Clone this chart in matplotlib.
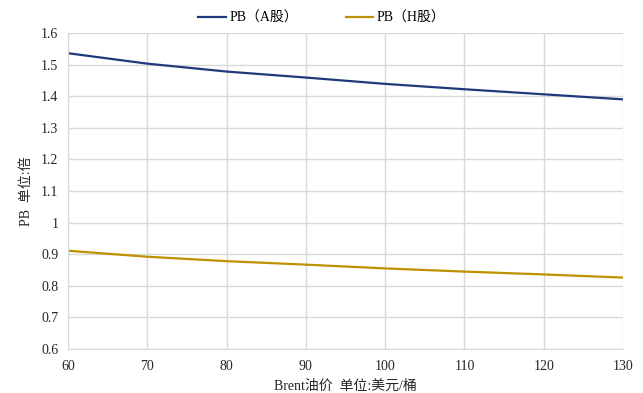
import matplotlib
matplotlib.use("Agg")
import matplotlib.pyplot as plt

plt.rcParams['font.family'] = ['Liberation Serif', 'Noto Sans CJK SC']

oil_price = [60, 70, 80, 90, 100, 110, 120, 130]
pb_a = [1.536, 1.503, 1.478, 1.459, 1.439, 1.422, 1.406, 1.390]
pb_h = [0.911, 0.892, 0.878, 0.867, 0.855, 0.845, 0.836, 0.826]
y_ticks = [0.6, 0.7, 0.8, 0.9, 1.0, 1.1, 1.2, 1.3, 1.4, 1.5, 1.6]
y_tick_labels = ['0.6', '0.7', '0.8', '0.9', '1', '1.1', '1.2', '1.3', '1.4', '1.5', '1.6']

fig = plt.figure(figsize=(6.43, 3.93), dpi=100)
ax = fig.add_axes([68/643, 1 - 349/393, (623-68)/643, (349-33)/393])

ax.plot(oil_price, pb_a, color='#1F3A7A', lw=1.6, label='PB（A股）')
ax.plot(oil_price, pb_h, color='#BF9000', lw=1.6, label='PB（H股）')

ax.set_xlim(60, 130)
ax.set_ylim(0.6, 1.6)
ax.set_xticks(oil_price)
ax.set_yticks(y_ticks)
ax.set_yticklabels(y_tick_labels)
ax.grid(True, color='#D9D9D9', lw=1)
ax.set_axisbelow(True)
for s in ['top', 'right']:
    ax.spines[s].set_visible(False)
for s in ['left', 'bottom']:
    ax.spines[s].set_color('#D9D9D9')
ax.tick_params(length=0, labelsize=10, colors='#262626')
ax.tick_params(axis='x', pad=8)
ax.tick_params(axis='y', pad=7)

ax.set_xlabel('Brent油价  单位:美元/桶', fontsize=10, color='#262626', labelpad=5)
ax.set_ylabel('PB  单位:倍', fontsize=10, color='#262626', labelpad=6)

fig.legend(loc='center', bbox_to_anchor=(322/643, 1 - 18/393), ncol=2, frameon=False,
           fontsize=10, handlelength=2.0, columnspacing=3.4, handletextpad=0.25)

fig.savefig('out.png', dpi=100)
